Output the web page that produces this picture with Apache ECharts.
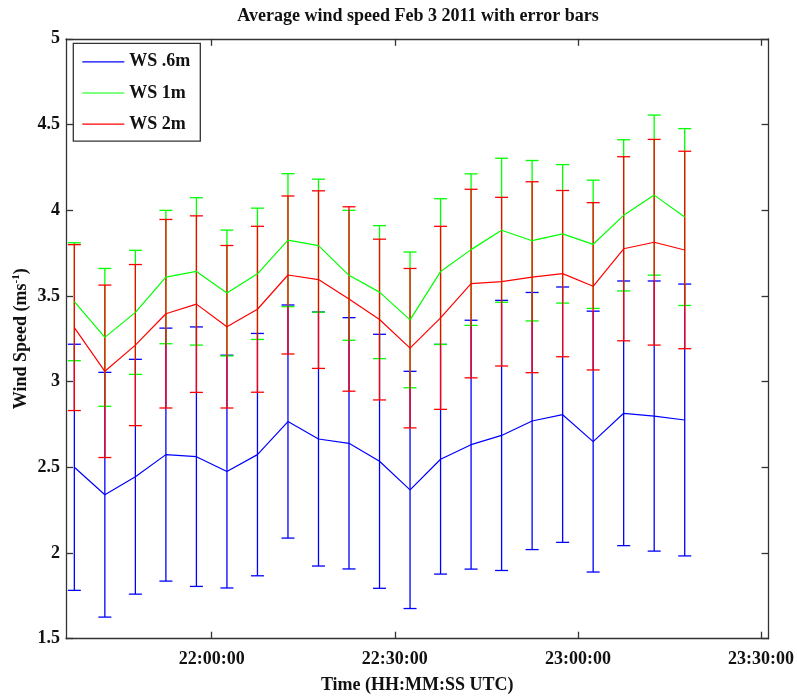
<!DOCTYPE html>
<html>
<head>
<meta charset="utf-8">
<title>Average wind speed Feb 3 2011</title>
<script src="https://cdn.jsdelivr.net/npm/echarts@6/dist/echarts.min.js"></script>
<style>
  html, body { margin: 0; padding: 0; background: #fff; }
  #chart { width: 797px; height: 700px; }
</style>
</head>
<body>
<div id="chart"></div>
<script>
// 5-minute averaging windows (UTC, centre of each window)
const times = ['21:37:30', '21:42:30', '21:47:30', '21:52:30', '21:57:30', '22:02:30', '22:07:30',
  '22:12:30', '22:17:30', '22:22:30', '22:27:30', '22:32:30', '22:37:30', '22:42:30',
  '22:47:30', '22:52:30', '22:57:30', '23:02:30', '23:07:30', '23:12:30', '23:17:30'];

// Mean wind speed (m/s) and one-sigma error at each height
const ws06Mean = [2.50, 2.34, 2.445, 2.574, 2.562, 2.475, 2.574, 2.767, 2.665, 2.64, 2.535, 2.368,
  2.547, 2.632, 2.686, 2.77, 2.807, 2.65, 2.815, 2.799, 2.776];
const ws06Err = [0.718, 0.714, 0.685, 0.738, 0.757, 0.679, 0.707, 0.68, 0.741, 0.733, 0.741, 0.692,
  0.67, 0.726, 0.788, 0.75, 0.745, 0.761, 0.772, 0.788, 0.793];

const ws1Mean = [3.466, 3.258, 3.404, 3.61, 3.643, 3.517, 3.629, 3.825, 3.793, 3.62, 3.522, 3.36,
  3.642, 3.77, 3.883, 3.822, 3.862, 3.801, 3.97, 4.088, 3.96];
const ws1Err = [0.344, 0.402, 0.362, 0.389, 0.43, 0.367, 0.383, 0.388, 0.388, 0.379, 0.388, 0.396,
  0.425, 0.442, 0.42, 0.468, 0.404, 0.374, 0.441, 0.467, 0.516];

const ws2Mean = [3.315, 3.06, 3.213, 3.396, 3.452, 3.32, 3.422, 3.622, 3.595, 3.482, 3.362, 3.195,
  3.372, 3.572, 3.583, 3.609, 3.63, 3.556, 3.775, 3.813, 3.768];
const ws2Err = [0.484, 0.503, 0.47, 0.55, 0.515, 0.474, 0.484, 0.461, 0.518, 0.538, 0.469, 0.465,
  0.534, 0.55, 0.492, 0.557, 0.485, 0.488, 0.537, 0.6, 0.576];

const seriesNames = ['WS .6m', 'WS 1m', 'WS 2m'];
const seriesColors = ['#0000ff', '#00ff00', '#ff0000'];

// Time axis range and tick labels
const xRange = ['21:36:08', '23:31:14'];
const xTickLabels = ['22:00:00', '22:30:00', '23:00:00', '23:30:00'];
const yTicks = { min: 1.5, max: 5, step: 0.5 };

// clock string -> minutes after midnight
function toMin(s) {
  const p = s.split(':').map(Number);
  return p[0] * 60 + p[1] + p[2] / 60;
}
function fmtClock(m) {
  const total = Math.round(m * 60);
  const h = Math.floor(total / 3600), mm = Math.floor((total % 3600) / 60), ss = total % 60;
  const z = v => String(v).padStart(2, '0');
  return z(h) + ':' + z(mm) + ':' + z(ss);
}

const xs = times.map(toMin);
const xTickVals = xTickLabels.map(toMin);
const FONT = '"Liberation Serif", "Times New Roman", serif';

function lineData(mean) { return xs.map((x, i) => [x, mean[i]]); }
function barData(mean, err) { return xs.map((x, i) => [x, mean[i] - err[i], mean[i] + err[i]]); }

function errorBars(color) {
  return function (params, api) {
    const x = api.value(0);
    const lo = api.coord([x, api.value(1)]);
    const hi = api.coord([x, api.value(2)]);
    const hw = 6.5;
    const style = { stroke: color, lineWidth: 1.3 };
    return {
      type: 'group',
      children: [
        { type: 'line', shape: { x1: lo[0], y1: lo[1], x2: hi[0], y2: hi[1] }, style },
        { type: 'line', shape: { x1: hi[0] - hw, y1: hi[1], x2: hi[0] + hw, y2: hi[1] }, style },
        { type: 'line', shape: { x1: lo[0] - hw, y1: lo[1], x2: lo[0] + hw, y2: lo[1] }, style }
      ]
    };
  };
}

const means = [ws06Mean, ws1Mean, ws2Mean];
const errs = [ws06Err, ws1Err, ws2Err];
const series = [];
for (let k = 0; k < 3; k++) {
  series.push({
    name: seriesNames[k] + ' error',
    type: 'custom',
    renderItem: errorBars(seriesColors[k]),
    data: barData(means[k], errs[k]),
    encode: { x: 0, y: [1, 2] },
    silent: true
  });
  series.push({
    name: seriesNames[k],
    type: 'line',
    data: lineData(means[k]),
    symbol: 'none',
    showSymbol: false,
    color: seriesColors[k],
    lineStyle: { color: seriesColors[k], width: 1.2 }
  });
}

const axisLineStyle = { color: '#333333', width: 1.3 };
const labelStyle = { color: '#111', fontFamily: FONT, fontWeight: 'bold', fontSize: 18 };

const xBase = {
  type: 'value',
  min: toMin(xRange[0]),
  max: toMin(xRange[1]),
  splitLine: { show: false },
  axisLine: { show: true, lineStyle: axisLineStyle },
  axisTick: { show: true, inside: true, length: 7, customValues: xTickVals, lineStyle: axisLineStyle }
};
const yBase = {
  type: 'value',
  min: yTicks.min,
  max: yTicks.max,
  interval: yTicks.step,
  splitLine: { show: false },
  axisLine: { show: true, lineStyle: axisLineStyle },
  axisTick: { show: true, inside: true, length: 7, lineStyle: axisLineStyle }
};

const chart = echarts.init(document.getElementById('chart'), null, { renderer: 'canvas' });
chart.setOption({
  animation: false,
  backgroundColor: '#ffffff',
  title: {
    text: 'Average wind speed Feb 3 2011 with error bars',
    left: 418,
    textAlign: 'center',
    top: 7,
    padding: 0,
    textStyle: { fontFamily: FONT, fontWeight: 'bold', fontSize: 18, color: '#111' }
  },
  grid: { left: 66, right: 26.3, top: 38.8, bottom: 61.3 },
  legend: {
    data: seriesNames,
    orient: 'vertical',
    left: 73.3,
    top: 43.3,
    padding: [9.5, 10, 8, 8.4],
    itemWidth: 42,
    itemHeight: 14,
    itemGap: 13.2,
    backgroundColor: '#ffffff',
    borderColor: '#333333',
    borderWidth: 1.3,
    borderRadius: 0,
    selectedMode: false,
    itemStyle: { opacity: 0 },
    lineStyle: { width: 1.2 },
    textStyle: { fontFamily: FONT, fontWeight: 'bold', fontSize: 18, color: '#111' }
  },
  xAxis: [
    Object.assign({}, xBase, {
      position: 'bottom',
      name: 'Time (HH:MM:SS UTC)',
      nameLocation: 'middle',
      nameGap: 38,
      nameMoveOverlap: false,
      nameTextStyle: labelStyle,
      axisLabel: Object.assign({ margin: 12, customValues: xTickVals, formatter: v => fmtClock(v) }, labelStyle)
    }),
    Object.assign({}, xBase, { position: 'top', axisLabel: { show: false } })
  ],
  yAxis: [
    Object.assign({}, yBase, {
      position: 'left',
      name: '{t|Wind Speed (ms}{s|-1}{t|)}',
      nameLocation: 'middle',
      nameGap: 35,
      nameMoveOverlap: false,
      nameTextStyle: {
        rich: {
          t: { fontFamily: FONT, fontWeight: 'bold', fontSize: 18, color: '#111', lineHeight: 20 },
          s: { fontFamily: FONT, fontWeight: 'bold', fontSize: 11, color: '#111', verticalAlign: 'top', lineHeight: 20 }
        }
      },
      axisLabel: Object.assign({ margin: 6 }, labelStyle)
    }),
    Object.assign({}, yBase, { position: 'right', axisLabel: { show: false } })
  ],
  series: series
});
</script>
</body>
</html>
